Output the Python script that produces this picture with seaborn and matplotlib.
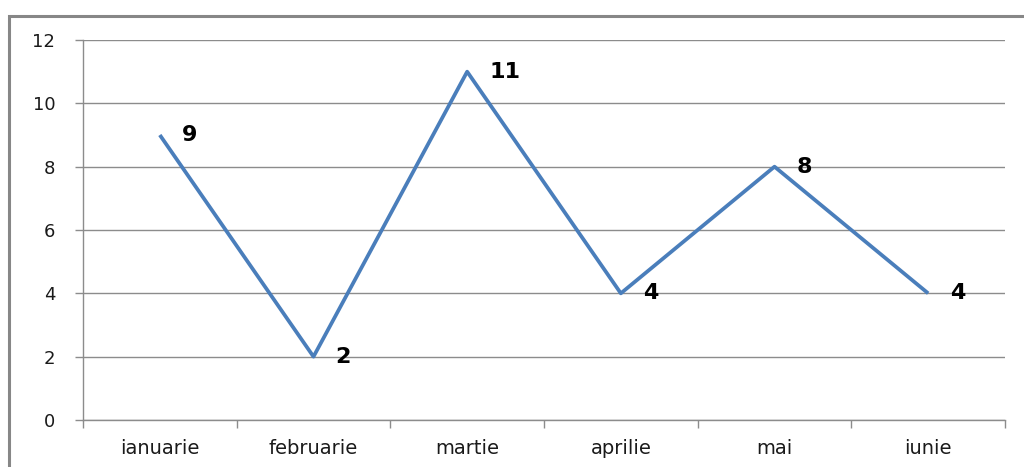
import matplotlib
matplotlib.use("Agg")
import matplotlib.pyplot as plt
import seaborn as sns
import pandas as pd
from matplotlib.patches import Rectangle

luni = ["ianuarie", "februarie", "martie", "aprilie", "mai", "iunie"]
valori = [9, 2, 11, 4, 8, 4]

df = pd.DataFrame({"luna": luni, "valoare": valori})

sns.set_style("white")
plt.rcParams['font.family'] = ['DejaVu Sans']

fig = plt.figure(figsize=(10.24, 4.67), dpi=100)
ax = fig.add_axes([83 / 1024, 47 / 467, 922 / 1024, 380 / 467])

x = list(range(len(luni)))
sns.lineplot(x=x, y=df["valoare"], ax=ax, color="#4a7ebb", linewidth=2.7,
             solid_capstyle="butt")

for xi, v in zip(x, valori):
    ax.annotate(str(v), (xi, v), xytext=(16, 0), textcoords="offset points",
                ha="left", va="center", fontsize=16, fontweight="bold", color="black")

ax.set_xlim(-0.5, len(luni) - 0.5)
ax.set_ylim(0, 12)
ax.set_yticks(range(0, 13, 2))
ax.set_xticks(x)
ax.set_xticklabels(luni)
ax.set_xticks([i - 0.5 for i in range(len(luni) + 1)], minor=True)
ax.set_xlabel("")
ax.set_ylabel("")

ax.grid(axis="y", color="#8c8c8c", linewidth=1)
ax.set_axisbelow(True)
for s in ["top", "right"]:
    ax.spines[s].set_visible(False)
ax.spines["left"].set_color("#8c8c8c")
ax.spines["bottom"].set_color("#8c8c8c")
ax.spines["left"].set_linewidth(1)
ax.spines["bottom"].set_linewidth(1)

ax.tick_params(axis="y", length=6, width=1, color="#8c8c8c", direction="out",
               labelsize=13, labelcolor="#1a1a1a", pad=14, left=True)
ax.tick_params(axis="x", which="major", length=0, labelsize=14,
               labelcolor="#1a1a1a", pad=14)
ax.tick_params(axis="x", which="minor", length=6, width=1, color="#8c8c8c",
               direction="out", bottom=True)

# chenarul graficului
fig.patches.append(Rectangle((9 / 1024, -0.1), 1.2, (467 - 15.5) / 467 + 0.1,
                             transform=fig.transFigure, fill=False,
                             edgecolor="#878787", linewidth=2.2))

fig.savefig("out.png", dpi=100)
